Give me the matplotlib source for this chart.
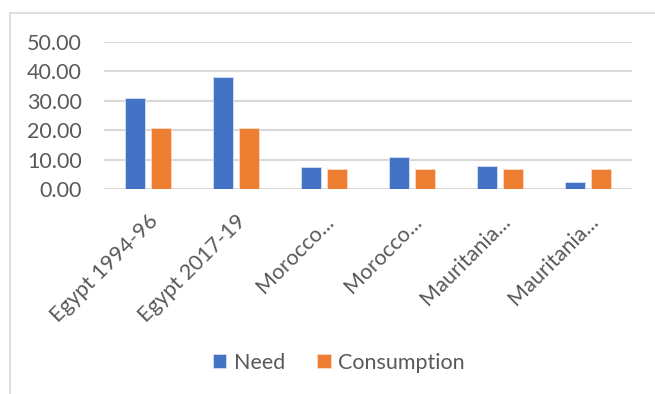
import matplotlib
matplotlib.use("Agg")
import matplotlib.pyplot as plt
from matplotlib.lines import Line2D
import numpy as np

categories = ["Egypt 1994-96", "Egypt 2017-19", "Morocco...", "Morocco...", "Mauritania...", "Mauritania..."]
need = [31.0, 38.1, 7.5, 10.9, 7.8, 2.4]
consumption = [20.7, 20.7, 6.9, 6.9, 6.9, 6.9]
yticks = [0, 10, 20, 30, 40, 50]

plt.rcParams['font.family'] = ['Lato', 'DejaVu Sans']

W, H = 655, 394
fig = plt.figure(figsize=(W/100, H/100), dpi=100)
ax = fig.add_axes([104/W, 1-189/H, (632-104)/W, (189-42)/H])

x = np.arange(len(categories))
bw = 0.227
off = bw/2 + 0.029
ax.bar(x - off, need, bw, color="#4472C4", edgecolor="#D6E0F2", linewidth=0.6, label="Need", zorder=3)
ax.bar(x + off, consumption, bw, color="#ED7D31", edgecolor="#F9DCC8", linewidth=0.6, label="Consumption", zorder=3)

ax.set_xlim(-0.5, len(categories) - 0.5)
ax.set_ylim(0, 50)
ax.set_yticks(yticks)
ax.set_yticklabels([f"{v:.2f}" for v in yticks], fontsize=15.5, color="#595959")
ax.yaxis.grid(True, color="#D9D9D9", linewidth=1.5, zorder=0)
ax.tick_params(axis='y', length=0, pad=16)
ax.tick_params(axis='x', length=0, pad=16)
for s in ax.spines.values():
    s.set_visible(False)
ax.set_xticks(x)
ax.set_xticklabels(categories, rotation=45, ha='right', va='top', rotation_mode='anchor',
                   fontsize=15.5, color="#595959")

leg = fig.legend(loc='center', bbox_to_anchor=(339/W, 1-363/H), ncol=2, frameon=False,
                 fontsize=15.5, handlelength=0.62, handleheight=0.62, handletextpad=0.35,
                 columnspacing=1.5, labelcolor="#595959")

# chart border
fig.add_artist(Line2D([9.5/W, 9.5/W], [0, 1-13/H], color="#D9D9D9", linewidth=1.2))
fig.add_artist(Line2D([9.5/W, 1], [1-13/H, 1-13/H], color="#D9D9D9", linewidth=1.2))

fig.savefig("out.png", dpi=100)
